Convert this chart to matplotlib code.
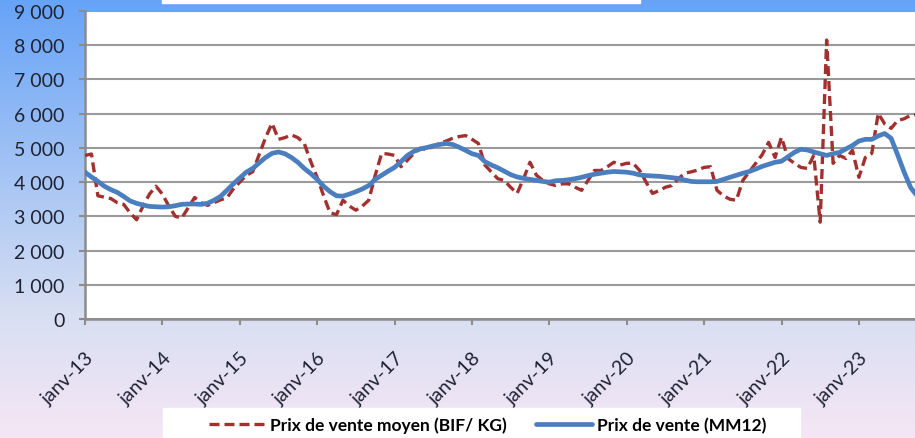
import numpy as np
import matplotlib
matplotlib.use("Agg")
import matplotlib.pyplot as plt
from matplotlib.patches import Rectangle
from matplotlib.ticker import FuncFormatter

# monthly values, janv-2013 .. sept-2023 (+ one point past the cut edge)
prix_moyen = [
    4780, 4820, 3600, 3560, 3520, 3400, 3350, 3100, 2900, 3300, 3650, 3880,
    3650, 3300, 3000, 2950, 3250, 3550, 3400, 3320, 3400, 3480, 3540, 3800,
    4000, 4200, 4300, 4800, 5300, 5720, 5250, 5300, 5380, 5300, 5130, 4600,
    4140, 3600, 3100, 3050, 3470, 3300, 3180, 3300, 3470, 4200, 4840, 4820,
    4780, 4450, 4640, 4840, 4990, 4950, 5050, 5130, 5200, 5280, 5330, 5360,
    5250, 5130, 4500, 4300, 4100, 4050, 3850, 3670, 4100, 4580, 4200, 4050,
    3950, 3900, 3950, 3950, 3850, 3760, 4050, 4340, 4340, 4450, 4580, 4500,
    4550, 4550, 4340, 4000, 3670, 3750, 3850, 3900, 4100, 4260, 4300, 4350,
    4430, 4450, 3760, 3600, 3500, 3470, 4050, 4300, 4550, 4800, 5160, 4720,
    5310, 4690, 4550, 4430, 4400, 4780, 2830, 8150, 4550, 4780, 4690, 4930,
    4140, 4720, 4840, 6010, 5700, 5570, 5800, 5850, 5950, 5980,
]
prix_mm12 = [
    4290, 4150, 4020, 3880, 3780, 3700, 3580, 3450, 3380, 3330, 3290, 3280,
    3270, 3280, 3310, 3350, 3360, 3360, 3350, 3380, 3470, 3580, 3760, 3950,
    4120, 4290, 4400, 4560, 4720, 4840, 4880, 4830, 4720, 4580, 4400, 4250,
    4080, 3880, 3720, 3600, 3590, 3650, 3720, 3800, 3900, 4080, 4200, 4320,
    4430, 4600, 4780, 4900, 4970, 5010, 5060, 5100, 5130, 5100, 5020, 4930,
    4830, 4780, 4600, 4500, 4420, 4320, 4220, 4150, 4110, 4080, 4050, 4020,
    4000, 4040, 4050, 4070, 4100, 4140, 4190, 4230, 4260, 4290, 4310, 4300,
    4290, 4260, 4210, 4190, 4180, 4170, 4150, 4130, 4110, 4060, 4020, 4010,
    4010, 4010, 4020, 4080, 4140, 4200, 4260, 4310, 4380, 4460, 4520, 4580,
    4610, 4740, 4870, 4960, 4940, 4880, 4830, 4780, 4830, 4870, 4970, 5070,
    5200, 5250, 5250, 5350, 5420, 5280, 4800, 4300, 3850, 3600,
]
annees = ['janv-13', 'janv-14', 'janv-15', 'janv-16', 'janv-17', 'janv-18',
          'janv-19', 'janv-20', 'janv-21', 'janv-22', 'janv-23']
legend_labels = ['Prix de vente moyen (BIF/ KG)', 'Prix de vente (MM12)']

plt.rcParams['font.family'] = ['Lato', 'DejaVu Sans']
txt = '#1f2233'

fig = plt.figure(figsize=(9.15, 4.39), dpi=100)

# gradient background (blue on top -> lavender/pink at the bottom)
bg = fig.add_axes([0, 0, 1, 1], zorder=-10)
top = np.array([0x66, 0xa3, 0xf7]) / 255
mid = np.array([0xd8, 0xdf, 0xf2]) / 255
bot = np.array([0xf5, 0xe6, 0xf5]) / 255
t = np.linspace(0, 1, 300)[:, None]
grad = np.where(t < 0.72, top + (mid - top) * (t / 0.72),
                mid + (bot - mid) * ((t - 0.72) / 0.28))
bg.imshow(grad[:, None, :], aspect='auto', extent=[0, 1, 0, 1], origin='upper')
bg.set_xlim(0, 1)
bg.set_ylim(0, 1)
bg.axis('off')

# white boxes: cut-off title at the top, legend at the bottom
fig.patches.append(Rectangle((162 / 915, 1 - 4 / 439), (640 - 162) / 915, 4 / 439,
                             transform=fig.transFigure, color='white', zorder=-5))
fig.patches.append(Rectangle((163 / 915, 0), (800 - 163) / 915, 30 / 439,
                             transform=fig.transFigure, color='white', zorder=-5))

ax = fig.add_axes([85 / 915, 1 - 320 / 439, 1 - 85 / 915, (320 - 12) / 439])
ax.set_facecolor('white')

x = np.arange(len(prix_moyen))
ax.plot(x, prix_moyen, color='#a2302e', lw=2.4, ls=(0, (3, 1.5)), label=legend_labels[0], zorder=3)
ax.plot(np.arange(len(prix_mm12)), prix_mm12, color='#4a7ebf', lw=3.4, label=legend_labels[1],
        zorder=4, solid_capstyle='round')

ax.set_xlim(0, 128.7)
ax.set_ylim(0, 9000)
ax.set_yticks(np.arange(0, 9001, 1000))
ax.yaxis.set_major_formatter(FuncFormatter(lambda v, p: f'{int(v):,}'.replace(',', ' ')))
ax.set_xticks(np.arange(len(annees)) * 12)
ax.set_xticklabels(annees, rotation=45, ha='right', rotation_mode='anchor')

ax.grid(axis='y', color='#9a9a9a', lw=1.5)
ax.set_axisbelow(True)
for s in ['top', 'right']:
    ax.spines[s].set_visible(False)
for s in ['left', 'bottom']:
    ax.spines[s].set_color('#8c8c8c')
    ax.spines[s].set_linewidth(1.8)
ax.tick_params(axis='both', colors='#8c8c8c', length=4.5, width=1.5, labelcolor=txt, labelsize=14)
ax.tick_params(axis='y', pad=10)
ax.tick_params(axis='x', pad=17)

fig.legend(loc='center', bbox_to_anchor=(488 / 915, 13 / 439), ncol=2, frameon=False,
           handlelength=3.2, columnspacing=1.7, handletextpad=0.3,
           prop={'weight': 'bold', 'size': 12.5})

fig.savefig('out.png', dpi=100)
